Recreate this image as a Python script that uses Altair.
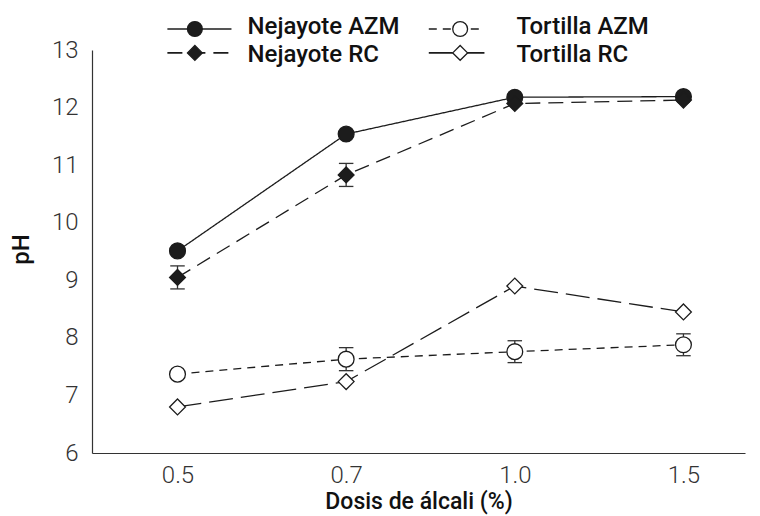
import json
import altair as alt
import pandas as pd

# ---- data ----
doses = ["0.5", "0.7", "1.0", "1.5"]
series = ["Nejayote AZM", "Nejayote RC", "Tortilla AZM", "Tortilla RC"]

nejayote_azm = [9.51, 11.54, 12.18, 12.19]
nejayote_rc = [9.05, 10.83, 12.07, 12.13]
tortilla_azm = [7.37, 7.63, 7.76, 7.88]
tortilla_rc = [6.80, 7.24, 8.90, 8.45]

nejayote_azm_err = [0.0, 0.0, 0.0, 0.0]
nejayote_rc_err = [0.20, 0.20, 0.0, 0.0]
tortilla_azm_err = [0.0, 0.20, 0.19, 0.19]
tortilla_rc_err = [0.0, 0.0, 0.0, 0.0]

# ---- styles ----
INK = "#1c1c1c"
FONT = "Roboto"
LIGHT = "Roboto Light, Roboto"
shapes = ["circle", "diamond", "circle", "diamond"]
fills = [INK, INK, "white", "white"]
dashes = [[1, 0], [15, 8], [8, 6], [24, 8]]

rows = []
for s, vals, errs in zip(series,
                         [nejayote_azm, nejayote_rc, tortilla_azm, tortilla_rc],
                         [nejayote_azm_err, nejayote_rc_err, tortilla_azm_err, tortilla_rc_err]):
    for i, (d, v, e) in enumerate(zip(doses, vals, errs)):
        rows.append({"series": s, "dose": d, "idx": i, "ph": v,
                     "lo": v - e, "hi": v + e, "err": e})
df = pd.DataFrame(rows)

# legend layout (in the chart's data units)
LEG_LINE_X0 = [-0.06, 1.49]
LEG_LINE_X1 = [0.32, 1.82]
LEG_MARK_X = [0.103, 1.676]
LEG_TEXT_X = [0.415, 2.01]
LEG_MARK_Y = [13.365, 12.95]
LEG_TEXT_Y = [13.278, 12.797]
leg = []
for i, s in enumerate(series):
    c, r = i // 2, i % 2
    leg.append({"series": s, "x0": LEG_LINE_X0[c], "x1": LEG_LINE_X1[c],
                "mx": LEG_MARK_X[c], "tx": LEG_TEXT_X[c],
                "my": LEG_MARK_Y[r], "ty": LEG_TEXT_Y[r]})
legdf = pd.DataFrame(leg)

xscale = alt.Scale(domain=[-0.507, 3.365], nice=False, zero=False)
yscale = alt.Scale(domain=[6, 13], nice=False, zero=False)

xaxis = alt.Axis(values=[0, 1, 2, 3], labelExpr=json.dumps(doses) + "[datum.value]",
                 title="Dosis de álcali (%)", grid=False, ticks=False, tickSize=0,
                 domainColor="#333333", domainWidth=1.2,
                 labelFont=LIGHT, labelFontSize=24, labelFontWeight=300, labelColor="#333333",
                 labelPadding=10, labelOverlap=False,
                 titleFont=FONT, titleFontSize=23, titleFontWeight=500, titleColor="#111111",
                 titleX=326.5, titleY=37, titleBaseline="top", titleAlign="center")
yaxis = alt.Axis(values=list(range(6, 14)), format="d", title="pH", grid=False, ticks=False,
                 tickSize=0, domainColor="#333333", domainWidth=1.2,
                 labelFont=LIGHT, labelFontSize=24, labelFontWeight=300, labelColor="#333333",
                 labelPadding=14,
                 titleFont=FONT, titleFontSize=24, titleFontWeight=500, titleColor="#111111",
                 titleAngle=270, titleX=-71, titleY=199, titleBaseline="middle", titleAlign="center")

dash_enc = alt.StrokeDash("series:N", scale=alt.Scale(domain=series, range=dashes), legend=None)
shape_enc = alt.Shape("series:N", scale=alt.Scale(domain=series, range=shapes), legend=None)
fill_enc = alt.Fill("series:N", scale=alt.Scale(domain=series, range=fills), legend=None)

base = alt.Chart(df)

lines = base.mark_line(color=INK, strokeWidth=1.3).encode(
    x=alt.X("idx:Q", scale=xscale, axis=xaxis),
    y=alt.Y("ph:Q", scale=yscale, axis=yaxis),
    strokeDash=dash_enc,
    detail="series:N",
)

errs = base.transform_filter("datum.err > 0")
err_rule = errs.mark_rule(color="#333333", strokeWidth=1.3).encode(
    x=alt.X("idx:Q", scale=xscale), y=alt.Y("lo:Q", scale=yscale), y2="hi:Q")
err_cap = errs.transform_fold(["lo", "hi"], as_=["k", "v"]).mark_tick(
    orient="horizontal", size=14.5, thickness=1.3, color="#333333", opacity=1).encode(
    x=alt.X("idx:Q", scale=xscale), y=alt.Y("v:Q", scale=yscale))

points = base.mark_point(filled=True, size=250, stroke=INK, strokeWidth=1.3, opacity=1).encode(
    x=alt.X("idx:Q", scale=xscale),
    y=alt.Y("ph:Q", scale=yscale),
    shape=shape_enc,
    fill=fill_enc,
)

lbase = alt.Chart(legdf)
leg_lines = lbase.mark_rule(color=INK, strokeWidth=1.6).encode(
    x=alt.X("x0:Q", scale=xscale), x2="x1:Q",
    y=alt.Y("my:Q", scale=yscale), strokeDash=dash_enc)
leg_marks = lbase.mark_point(filled=True, size=220, stroke=INK, strokeWidth=1.3, opacity=1).encode(
    x=alt.X("mx:Q", scale=xscale), y=alt.Y("my:Q", scale=yscale),
    shape=shape_enc, fill=fill_enc)
leg_text = lbase.mark_text(align="left", baseline="alphabetic", font=FONT, fontSize=24,
                           fontWeight=500, color="#111111").encode(
    x=alt.X("tx:Q", scale=xscale), y=alt.Y("ty:Q", scale=yscale), text="series:N")

chart = alt.layer(lines, err_rule, err_cap, points, leg_lines, leg_marks, leg_text).properties(
    width=653, height=403,
    padding={"left": 84, "top": 42, "right": 5, "bottom": 63},
    autosize=alt.AutoSizeParams(type="none"),
).configure_view(stroke="transparent")

chart.save("out.html", embed_options={"renderer": "svg", "actions": False})
